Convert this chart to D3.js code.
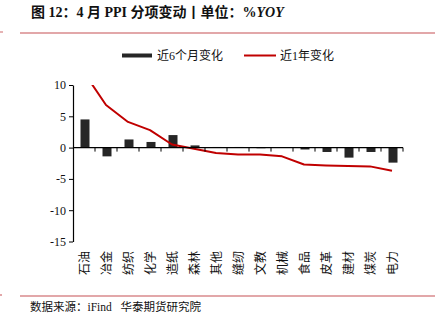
<!DOCTYPE html>
<html><head><meta charset="utf-8">
<script src="https://cdn.jsdelivr.net/npm/d3@7"></script>
<style>body{margin:0;background:#fff}svg{display:block}</style>
</head><body>
<script>
const categories = ["石油","冶金","纺织","化学","造纸","森林","其他","缝纫","文教","机械","食品","皮革","建材","煤炭","电力"];
const sixMonth = [4.5,-1.4,1.3,0.9,2.0,0.35,0.1,0.1,-0.1,0.05,-0.3,-0.7,-1.6,-0.7,-2.4];
const oneYear = [12.0,6.8,4.1,2.8,0.5,-0.2,-0.85,-1.1,-1.1,-1.4,-2.7,-2.85,-2.95,-3.0,-3.7];
const yTicks = [10,5,0,-5,-10,-15];
const seriesNames = ["近6个月变化","近1年变化"];

const W=435,H=332;
const serif = '"Liberation Serif","Noto Sans CJK SC",serif';
const svg = d3.select("body").append("svg").attr("width",W).attr("height",H);

// title
svg.append("text").attr("x",31).attr("y",17).attr("font-family",serif).attr("font-weight","bold")
  .attr("font-size",14).attr("fill","#111")
  .html('图 12：4 月 PPI 分项变动丨单位：%<tspan font-style="italic">YOY</tspan>');
const ruleColor="#d98a8c";
svg.append("line").attr("x1",20).attr("x2",435).attr("y1",33).attr("y2",33).attr("stroke",ruleColor).attr("stroke-width",1.3);
svg.append("line").attr("x1",0).attr("x2",3).attr("y1",32).attr("y2",32).attr("stroke",ruleColor).attr("stroke-width",1.3);
svg.append("line").attr("x1",20).attr("x2",435).attr("y1",296).attr("y2",296).attr("stroke",ruleColor).attr("stroke-width",1.3);
svg.append("line").attr("x1",0).attr("x2",2).attr("y1",295).attr("y2",295).attr("stroke",ruleColor).attr("stroke-width",1.3);

// scales
const x = d3.scaleBand().domain(categories).range([73,403]).paddingInner(0).paddingOuter(0);
const y = d3.scaleLinear().domain([-15,10]).range([241.5,85]);

// legend
const lg = svg.append("g").attr("font-family",serif).attr("font-size",12).attr("fill","#111");
lg.append("rect").attr("x",122).attr("y",53.5).attr("width",30).attr("height",4).attr("fill","#262626");
lg.append("text").attr("x",157).attr("y",59.5).text(seriesNames[0]);
lg.append("line").attr("x1",244).attr("x2",276).attr("y1",55.5).attr("y2",55.5).attr("stroke","#c00000").attr("stroke-width",2);
lg.append("text").attr("x",280).attr("y",59.5).text(seriesNames[1]);

// bars
const bw = 9;
svg.append("g").selectAll("rect").data(categories).join("rect")
  .attr("x",d=>x(d)+x.bandwidth()/2-bw/2+1)
  .attr("width",bw)
  .attr("y",(d,i)=>y(Math.max(0,sixMonth[i])))
  .attr("height",(d,i)=>Math.abs(y(sixMonth[i])-y(0)))
  .attr("fill","#262626");

// clip
svg.append("clipPath").attr("id","clip").append("rect").attr("x",73).attr("y",y(10)).attr("width",340).attr("height",y(-15)-y(10));
const line = d3.line().x((d,i)=>x(categories[i])+x.bandwidth()/2).y(d=>y(d));
svg.append("path").datum(oneYear).attr("d",line).attr("fill","none").attr("stroke","#c00000")
  .attr("stroke-width",2).attr("clip-path","url(#clip)").attr("stroke-linejoin","round");

// y axis
const yAxis = d3.axisLeft(y).tickValues(yTicks).tickSize(4).tickSizeOuter(0).tickFormat(d=>String(d));
const ya = svg.append("g").attr("transform","translate(73,0)").call(yAxis);
ya.select(".domain").attr("stroke","#000").attr("stroke-width",1.2);
ya.selectAll(".tick line").attr("stroke","#000");
ya.selectAll("text").attr("font-family",serif).attr("font-size",12).attr("fill","#111").attr("x",-7);

// x axis at zero
const xg = svg.append("g").attr("transform",`translate(0,${y(0)})`);
xg.append("line").attr("x1",73).attr("x2",403).attr("stroke","#000").attr("stroke-width",1.2);
const bounds = categories.slice(1).map(c=>x(c)).concat([x.range()[1]]);
xg.selectAll("line.t").data(bounds).join("line").attr("class","t")
  .attr("x1",d=>d).attr("x2",d=>d).attr("y1",0).attr("y2",4).attr("stroke","#000");

// category labels (rotated -90)
svg.append("g").attr("font-family",serif).attr("font-size",12).attr("fill","#111")
  .selectAll("text").data(categories).join("text")
  .attr("text-anchor","end")
  .attr("transform",d=>`translate(${x(d)+x.bandwidth()/2+4.5},251) rotate(-90)`)
  .text(d=>d);

// source
svg.append("text").attr("x",30).attr("y",311).attr("font-family",serif).attr("font-size",11.5).attr("fill","#111")
  .attr("xml:space","preserve").text("数据来源：iFind   华泰期货研究院");
</script>
</body></html>
